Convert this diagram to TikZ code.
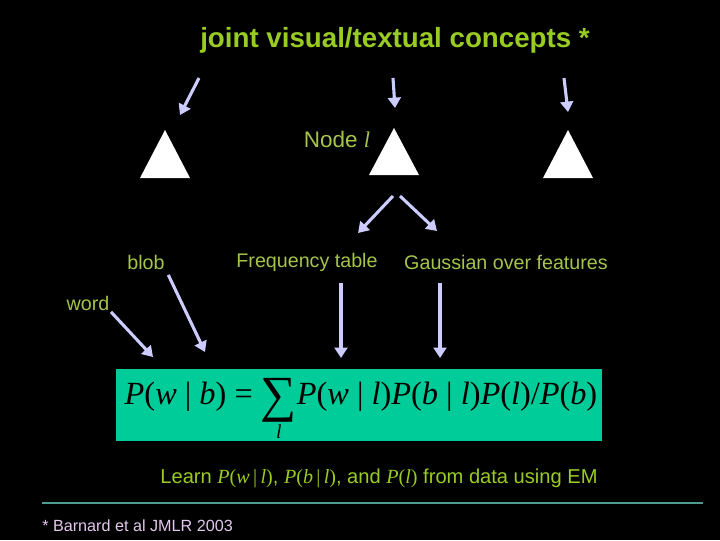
\documentclass[tikz,border=0pt]{standalone}
\usepackage{fontspec}
\setmainfont{Liberation Sans}
\newfontfamily\tnr{Liberation Serif}
\usetikzlibrary{calc,arrows.meta,positioning,shapes.geometric}
\definecolor{limex}{HTML}{99CC22}
\definecolor{leafx}{HTML}{A4C44A}
\definecolor{lavx}{HTML}{CCCCFF}
\definecolor{seax}{HTML}{00CC99}
\definecolor{rulex}{HTML}{4E9A8E}
\definecolor{pinkx}{HTML}{E4C8EE}
\tikzset{
  ar/.style={-{Triangle[length=2.6mm,width=3.2mm]},line width=2.2pt,lavx},
  lbl/.style={text=leafx,font=\fontsize{14}{16}\selectfont,inner sep=1pt},
  tri/.style={fill=white,draw=none}
}
\newcommand{\vi}[1]{\textit{#1}}
\begin{document}
\begin{tikzpicture}[x=0.025cm,y=-0.025cm]
\fill[black] (0,0) rectangle (720,540);
\useasboundingbox (0,0) rectangle (720,540);
% title and the three concepts
\node[text=limex,font=\bfseries\fontsize{19.7}{22}\selectfont] (title) at (395,40) {joint visual/textual concepts *};
\coordinate (ta) at (199,78);
\coordinate (tb) at (393,78);
\coordinate (tc) at (564,78);
\coordinate (tl) at (165,154);
\coordinate (tm) at (394,152);
\coordinate (tr) at (568,154);
\fill[tri] (tl) ++(0,-24) -- ++(25,48) -- ++(-50,0) -- cycle;
\fill[tri] (tm) ++(0,-24) -- ++(25,47) -- ++(-50,0) -- cycle;
\fill[tri] (tr) ++(0,-24) -- ++(25,48) -- ++(-50,0) -- cycle;
\coordinate (ea) at (180,115);
\coordinate (eb) at (395,108);
\coordinate (ec) at (568,112);
\draw[ar] (ta) -- (ea);
\draw[ar] (tb) -- (eb);
\draw[ar] (tc) -- (ec);
\node[lbl,font=\fontsize{16}{18}\selectfont] (nodel) at (337,139) {Node {\tnr\itshape l}};
% what a node holds
\coordinate (sa) at (393,196);
\coordinate (sb) at (400,196);
\coordinate (ma) at (358,233);
\coordinate (mb) at (437,231);
\draw[ar] (sa) -- (ma);
\draw[ar] (sb) -- (mb);
\node[lbl] (blob) at (146,262) {blob};
\node[lbl] (freq) at (307,262) {Frequency table};
\node[lbl] (gauss) at (506,262) {Gaussian over features};
\node[lbl] (word) at (88,303) {word};
% formula
\node[fill=seax,minimum width=12.15cm,minimum height=1.78cm,inner sep=0pt] (eq) at (359,405) {};
\node[text=black,font=\tnr\fontsize{23}{25}\selectfont,inner sep=0pt] (eqtxt) at (361,409)
  {\vi{P}(\vi{w} | \vi{b}) = $\mathop{\hbox{\fontsize{36}{36}\selectfont\raisebox{-5pt}{∑}}}\limits_{\hbox{\fontsize{14}{14}\selectfont\itshape l}}$\vi{P}(\vi{w} | \vi{l})\vi{P}(\vi{b} | \vi{l})\vi{P}(\vi{l})/\vi{P}(\vi{b})};
\coordinate (fw) at (153,357);
\coordinate (fb) at (205,352);
\coordinate (ff) at (341,358);
\coordinate (fg) at (440,358);
\draw[ar] (word.south east) -- (fw);
\draw[ar] ($(blob.south east)+(2,4)$) -- (fb);
\draw[ar] (341,283) coordinate (qf) -- (ff);
\draw[ar] (440,283) coordinate (qg) -- (fg);
% learning line
\node[lbl,text=limex,font=\fontsize{14.3}{16}\selectfont] (learn) at (379,478) {Learn {\tnr\itshape P}{\tnr(\itshape w\upshape\,|\,\itshape l\upshape)}, {\tnr\itshape P}{\tnr(\itshape b\upshape\,|\,\itshape l\upshape)}, and {\tnr\itshape P}{\tnr(\itshape l\upshape)} from data using EM};
\coordinate (ra) at (42,503);
\coordinate (rb) at (703,503);
\draw[rulex,line width=1.6pt] (ra) -- (rb);
\node[anchor=west,text=pinkx,font=\fontsize{11.5}{13}\selectfont,inner sep=0pt] (cite) at (42,526) {* Barnard et al JMLR 2003};
\end{tikzpicture}
\end{document}
